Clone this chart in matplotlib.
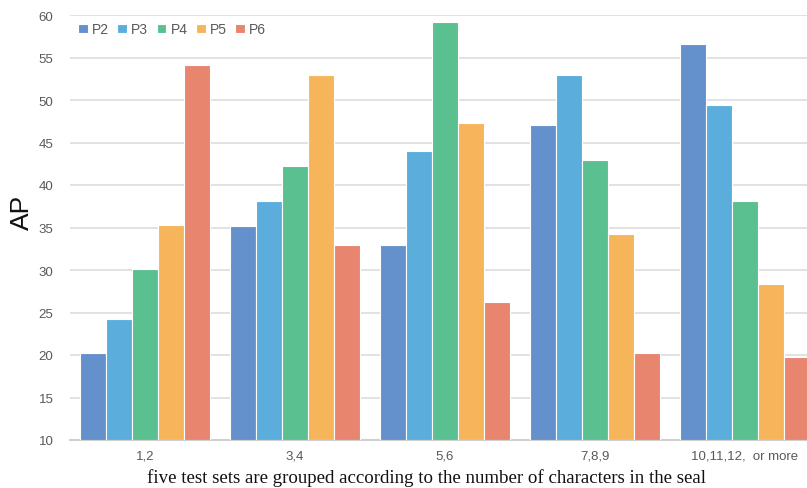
import matplotlib
matplotlib.use("Agg")
import matplotlib.pyplot as plt
import numpy as np

categories = ["1,2", "3,4", "5,6", "7,8,9", "10,11,12,  or more"]
series_names = ["P2", "P3", "P4", "P5", "P6"]
P2 = [20.2, 35.2, 32.9, 47.1, 56.6]
P3 = [24.2, 38.1, 44.0, 53.0, 49.4]
P4 = [30.1, 42.2, 59.2, 42.9, 38.1]
P5 = [35.3, 53.0, 47.3, 34.2, 28.3]
P6 = [54.1, 32.9, 26.2, 20.2, 19.8]
series = [P2, P3, P4, P5, P6]
colors = ["#6490CB", "#5BAEDC", "#5AC08F", "#F6B55B", "#E8856F"]
yticks = [10, 15, 20, 25, 30, 35, 40, 45, 50, 55, 60]

plt.rcParams["font.family"] = ["Liberation Sans", "DejaVu Sans"]

W, H = 807, 489
fig = plt.figure(figsize=(W / 100, H / 100), dpi=100)
ax = fig.add_axes([70 / W, 48 / H, 750 / W, 425 / H])

x = np.arange(len(categories))
bw = 0.867 / 5
for i, (name, vals, c) in enumerate(zip(series_names, series, colors)):
    ax.bar(x + (i - 2) * bw, np.array(vals) - 10, bottom=10, width=bw,
           color=c, edgecolor="white", linewidth=0.8, label=name, zorder=3)

ax.set_xlim(-0.5, 4.5)
ax.set_ylim(10, 60)
ax.set_yticks(yticks)
ax.set_xticks(x)
ax.set_xticklabels(categories)
ax.grid(axis="y", color="#DDDDDD", linewidth=1.2, zorder=0)
for s in ["top", "right", "left"]:
    ax.spines[s].set_visible(False)
ax.spines["bottom"].set_color("#D0D0D0")
ax.spines["bottom"].set_linewidth(1.5)
ax.tick_params(axis="both", length=0, labelsize=9.5, labelcolor="#595959")
ax.tick_params(axis="y", pad=12)
ax.tick_params(axis="x", pad=7)

fig.text(22 / W, 1 - 212 / H, "AP", rotation=90, fontsize=19, ha="center", va="center",
         color="#111111")
fig.text(427 / W, 1 - 478 / H, "five test sets are grouped according to the number of characters in the seal",
         fontsize=13.6, family="Liberation Serif", ha="center", va="center", color="#111111")

leg = ax.legend(loc="upper left", bbox_to_anchor=(-0.006, 1.012), ncol=5, frameon=False,
                fontsize=10, handlelength=0.7, handleheight=0.7, handletextpad=0.3,
                columnspacing=0.6, labelcolor="#595959")

fig.savefig("out.png", dpi=100)
